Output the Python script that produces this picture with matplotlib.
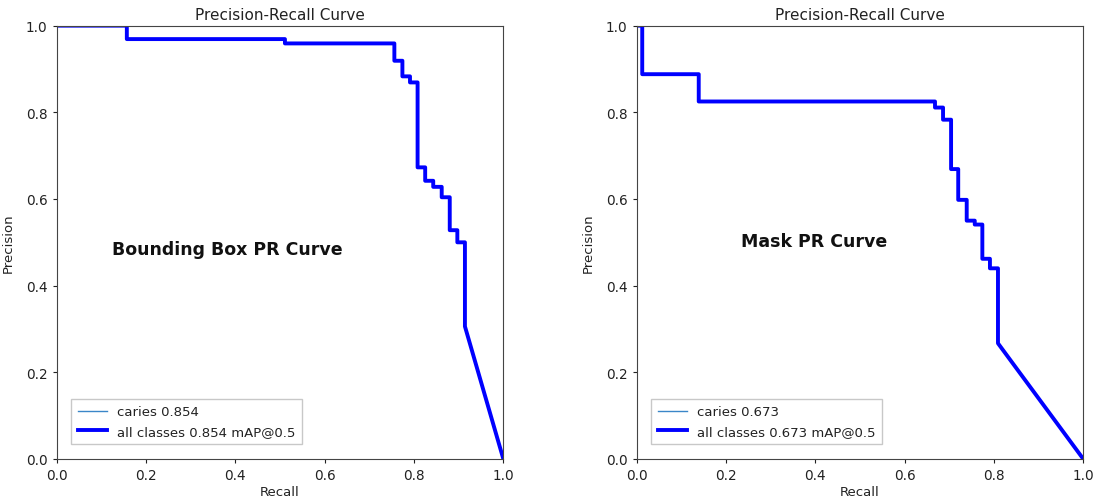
import numpy as np
import matplotlib
matplotlib.use("Agg")
import matplotlib.pyplot as plt

# Bounding box PR curve: recall at which precision steps down, precision after the step
bb_recall = [0.0, 0.157, 0.511, 0.756, 0.774, 0.791, 0.808, 0.825, 0.843, 0.862, 0.880, 0.897, 0.914, 1.0]
bb_precision = [1.0, 0.969, 0.959, 0.919, 0.883, 0.869, 0.673, 0.642, 0.628, 0.604, 0.528, 0.500, 0.306, 0.0]
bb_map = 0.854

# Mask PR curve
mk_recall = [0.0, 0.0125, 0.139, 0.668, 0.686, 0.704, 0.720, 0.739, 0.757, 0.774, 0.791, 0.809, 1.0]
mk_precision = [1.0, 0.888, 0.825, 0.811, 0.783, 0.669, 0.598, 0.550, 0.541, 0.462, 0.440, 0.267, 0.0]
mk_map = 0.673

class_name = "caries"
panel_titles = ["Bounding Box PR Curve", "Mask PR Curve"]
ticks = [0.0, 0.2, 0.4, 0.6, 0.8, 1.0]


def step_vertices(r, p):
    # horizontal then vertical steps, last segment drawn straight to (1, 0)
    xs, ys = [r[0]], [p[0]]
    for i in range(1, len(r) - 1):
        xs += [r[i], r[i]]
        ys += [p[i - 1], p[i]]
    xs.append(r[-1])
    ys.append(p[-1])
    return np.array(xs), np.array(ys)


fig = plt.figure(figsize=(10.99, 5.02), dpi=100)
ax_l = fig.add_axes([0.0516, 0.0837, 0.4064, 0.8632])
ax_r = fig.add_axes([0.5793, 0.0837, 0.4064, 0.8632])

panels = [
    (ax_l, bb_recall, bb_precision, bb_map, panel_titles[0], (0.382, 0.485)),
    (ax_r, mk_recall, mk_precision, mk_map, panel_titles[1], (0.398, 0.503)),
]

for ax, r, p, m, label, pos in panels:
    xs, ys = step_vertices(r, p)
    ax.plot(xs, ys, linewidth=1, color="#3a86c8", label=f"{class_name} {m:.3f}")
    ax.plot(xs, ys, linewidth=2.8, color="blue", label=f"all classes {m:.3f} mAP@0.5")
    ax.set_xlim(0, 1)
    ax.set_ylim(0, 1)
    ax.set_xticks(ticks)
    ax.set_yticks(ticks)
    ax.tick_params(labelsize=9.8, colors="#222222", length=3)
    ax.set_xlabel("Recall", fontsize=9.5, color="#222222", labelpad=2)
    ax.set_ylabel("Precision", fontsize=9.5, color="#222222", labelpad=8)
    ax.set_title("Precision-Recall Curve", fontsize=11, color="#222222", pad=5)
    for s in ax.spines.values():
        s.set_color("#444444")
    ax.text(pos[0], pos[1], label, transform=ax.transData, fontsize=12.5,
            fontweight="bold", ha="center", va="center", color="#111111")
    leg = ax.legend(loc="lower left", fontsize=9.5, borderaxespad=1.1,
                    fancybox=False, handlelength=2.2, borderpad=0.5)
    leg.get_frame().set_edgecolor("#bbbbbb")
    for t in leg.get_texts():
        t.set_color("#222222")

fig.savefig("out.png", dpi=100)
